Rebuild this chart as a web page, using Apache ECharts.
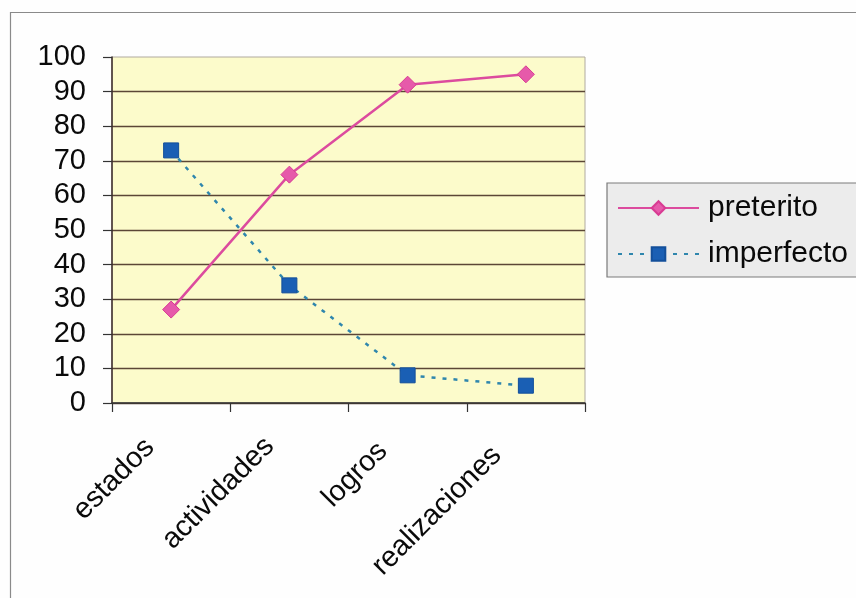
<!DOCTYPE html>
<html>
<head>
<meta charset="utf-8">
<script src="https://cdn.jsdelivr.net/npm/echarts@6/dist/echarts.min.js"></script>
<style>
html,body{margin:0;padding:0;background:#fefefe;}
#c{width:856px;height:598px;}
</style>
</head>
<body>
<div id="c"></div>
<script>
const categories = ['estados', 'actividades', 'logros', 'realizaciones'];
const preterito = [27, 66, 92, 95];
const imperfecto = [73, 34, 8, 5];
const yMin = 0, yMax = 100, yStep = 10;
const labelShift = [30, 28, 35, 41];

const chart = echarts.init(document.getElementById('c'), null, {renderer: 'canvas'});
const font = 'Liberation Sans, Arial, sans-serif';

chart.setOption({
  backgroundColor: '#fefefe',
  animation: false,
  graphic: [{
    type: 'rect', left: 8, top: 10, silent: true, z: -1,
    shape: {width: 870, height: 600},
    style: {fill: 'none', stroke: '#8a8a8a', lineWidth: 1.2}
  }],
  grid: {
    left: 112, top: 57, right: 271, bottom: 195,
    outerBoundsMode: 'none', containLabel: false,
    show: true, backgroundColor: '#fcfbcb', borderColor: '#b0aaa0', borderWidth: 1
  },
  legend: {
    left: 607, top: 183,
    orient: 'vertical',
    itemWidth: 81, itemHeight: 17, itemGap: 16,
    padding: [10, 20, 8, 10],
    backgroundColor: '#ececec',
    borderColor: '#7a7a7a', borderWidth: 1.2,
    textStyle: {fontFamily: font, fontSize: 30, color: '#0a0a0a', padding: [0, 0, 0, 4]},
    data: ['preterito', 'imperfecto']
  },
  xAxis: {
    type: 'category',
    data: categories.map((c, i) => ({
      value: c,
      textStyle: {padding: [0, labelShift[i], 0, 0]}
    })),
    boundaryGap: true,
    axisLine: {lineStyle: {color: '#333', width: 1.5}},
    axisTick: {show: true, length: 9, inside: false, lineStyle: {color: '#333', width: 1.2}},
    axisLabel: {
      interval: 0, rotate: 45, margin: 19,
      fontFamily: font, fontSize: 29, color: '#0a0a0a'
    },
    splitLine: {show: false}
  },
  yAxis: {
    type: 'value',
    min: yMin, max: yMax, interval: yStep,
    axisLine: {show: true, lineStyle: {color: '#3a2a2a', width: 1.5}},
    axisTick: {show: true, length: 9, lineStyle: {color: '#333', width: 1.2}},
    axisLabel: {margin: 26, fontFamily: font, fontSize: 29, color: '#0a0a0a'},
    splitLine: {show: true, showMaxLine: false, lineStyle: {color: '#5b4636', width: 1.4}}
  },
  series: [{
    name: 'preterito',
    type: 'line',
    data: preterito,
    symbol: 'diamond', symbolSize: 17,
    itemStyle: {color: '#e65aaa', borderColor: '#d83b93', borderWidth: 1},
    lineStyle: {color: '#dc4b9e', width: 2.5}
  }, {
    name: 'imperfecto',
    type: 'line',
    data: imperfecto,
    symbol: 'rect', symbolSize: 15,
    itemStyle: {color: '#1a5fb4', borderColor: '#134f9a', borderWidth: 1},
    lineStyle: {color: '#2f86ad', width: 2.5, type: [4, 7]}
  }]
});
</script>
</body>
</html>
